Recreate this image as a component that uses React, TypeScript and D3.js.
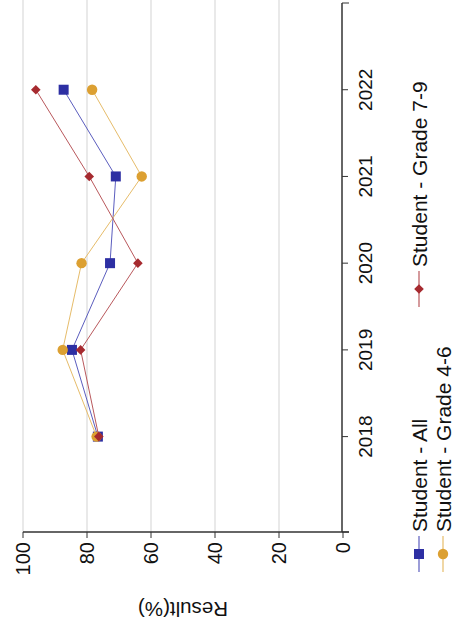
import React from "react";
import * as d3 from "d3";

const years = [2018, 2019, 2020, 2021, 2022];
const allStudents = [76.6, 84.7, 72.8, 71.0, 87.3];
const grade46 = [77.0, 87.6, 81.7, 62.9, 78.4];
const grade79 = [76.3, 82.0, 64.1, 79.3, 96.0];
const valueTicks = [0, 20, 40, 60, 80, 100];
const seriesNames = ["Student - All", "Student - Grade 4-6", "Student - Grade 7-9"];
const seriesColors = ["#2D2FA3", "#DCA032", "#A62A2F"];
const seriesLineColors = ["#5B5DBE", "#E6BC6A", "#B9585C"];
const seriesShapes = ["square", "circle", "diamond"];

const W = 625; // original (unrotated) width
const FONT = "'Liberation Sans', Arial, Helvetica, sans-serif";

function Marker({ shape, x, y, color }: { shape: string; x: number; y: number; color: string }) {
  if (shape === "square") return <rect x={x - 5} y={y - 5} width={10} height={10} fill={color} />;
  if (shape === "circle") return <circle cx={x} cy={y} r={5.2} fill={color} />;
  const s = 4.8;
  return <path d={`M${x},${y - s}L${x + s},${y}L${x},${y + s}L${x - s},${y}Z`} fill={color} />;
}

export default function App() {
  const x = d3.scaleLinear().domain([2016.9, 2023]).range([93, 622]);
  const y = d3.scaleLinear().domain([0, 100]).range([343, 23]);
  const data = [allStudents, grade46, grade79];
  const line = d3
    .line<number>()
    .x((_, i) => x(years[i]))
    .y((v) => y(v));

  const axisColor = "#333";
  const xAxisY = 342;
  const [x0, x1] = x.range();

  const legendItems = [
    { i: 0, lx: 53, ly: 419 },
    { i: 1, lx: 53, ly: 443 },
    { i: 2, lx: 318, ly: 419 },
  ];

  return (
    <svg
      width={455}
      height={625}
      style={{ position: "absolute", left: 0, top: 0, background: "#fff" }}
      fontFamily={FONT}
    >
      <rect x={0} y={0} width={455} height={625} fill="#fff" />
      <g transform={`translate(0,${W}) rotate(-90)`}>
        {valueTicks
          .filter((t) => t > 0)
          .map((t) => (
            <line key={t} x1={x0} x2={W} y1={y(t)} y2={y(t)} stroke="#E2E2E2" strokeWidth={1.5} />
          ))}
        <line x1={x0} x2={x0} y1={y(100)} y2={xAxisY + 7} stroke={axisColor} strokeWidth={1.5} />
        {valueTicks.map((t) => (
          <g key={t}>
            <line x1={x0 - 6} x2={x0} y1={y(t)} y2={y(t)} stroke={axisColor} strokeWidth={1} />
            <text
              x={x0 - 10}
              y={y(t)}
              textAnchor="end"
              dominantBaseline="central"
              fontSize={20}
              fill="#111"
            >
              {t}
            </text>
          </g>
        ))}
        <text
          transform={`translate(23,${(y(0) + y(100)) / 2}) rotate(-90)`}
          textAnchor="middle"
          fontSize={20.5}
          fill="#111"
        >
          Result(%)
        </text>
        <line x1={x0} x2={x1} y1={xAxisY} y2={xAxisY} stroke={axisColor} strokeWidth={1.5} />
        {[x0, x1].map((p, k) => (
          <line key={k} x1={p} x2={p} y1={xAxisY} y2={xAxisY + 7} stroke={axisColor} strokeWidth={1} />
        ))}
        {years.map((yr) => (
          <g key={yr}>
            <line x1={x(yr)} x2={x(yr)} y1={xAxisY} y2={xAxisY + 6} stroke={axisColor} strokeWidth={1} />
            <text x={x(yr)} y={372} textAnchor="middle" fontSize={19} fill="#111">
              {yr}
            </text>
          </g>
        ))}
        {data.map((vals, si) => (
          <g key={si}>
            <path d={line(vals) || ""} fill="none" stroke={seriesLineColors[si]} strokeWidth={1} />
            {vals.map((v, i) => (
              <Marker key={i} shape={seriesShapes[si]} x={x(years[i])} y={y(v)} color={seriesColors[si]} />
            ))}
          </g>
        ))}
        {legendItems.map(({ i, lx, ly }) => (
          <g key={i}>
            <line x1={lx} x2={lx + 36} y1={ly} y2={ly} stroke={seriesLineColors[i]} strokeWidth={1.2} />
            <Marker shape={seriesShapes[i]} x={lx + 18} y={ly} color={seriesColors[i]} />
            <text x={lx + 40} y={ly} dominantBaseline="central" fontSize={21} fill="#111">
              {seriesNames[i]}
            </text>
          </g>
        ))}
      </g>
    </svg>
  );
}
